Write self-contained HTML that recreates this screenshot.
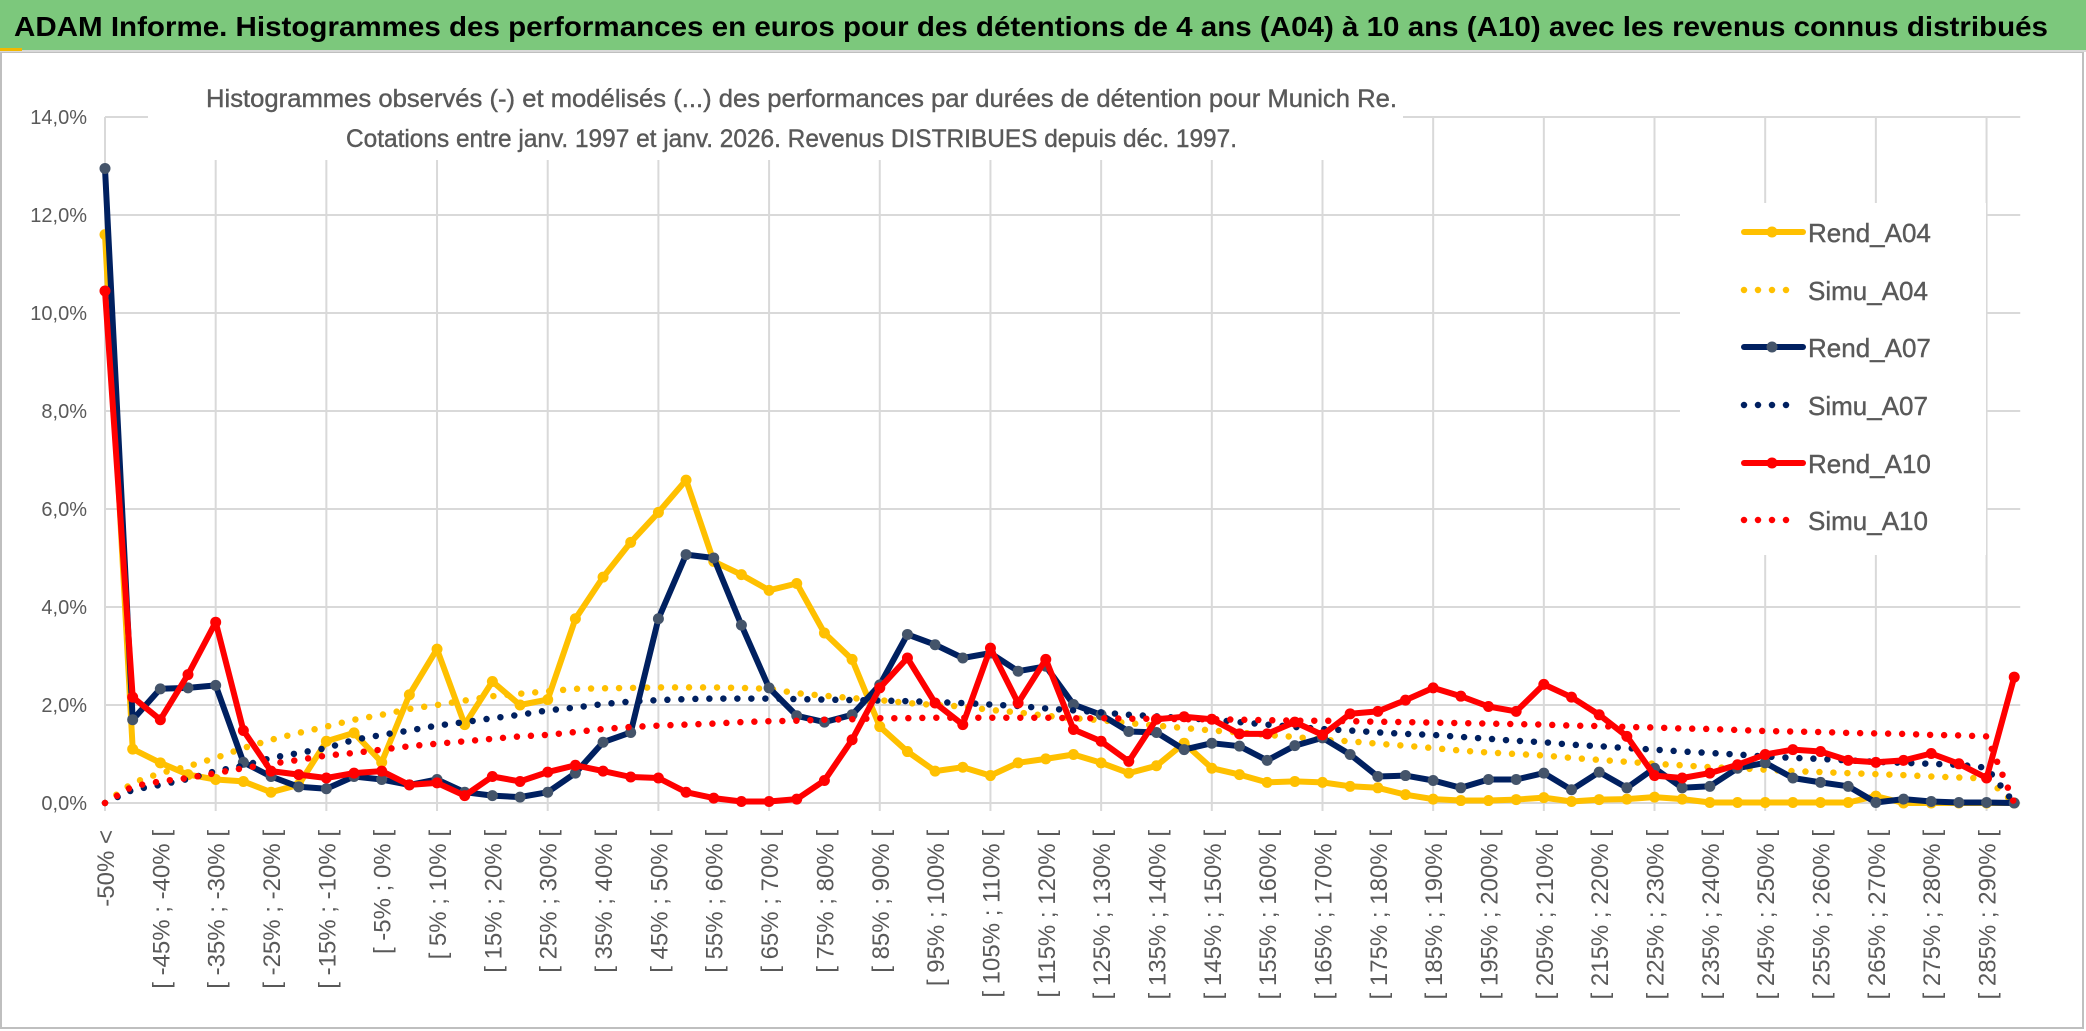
<!DOCTYPE html>
<html><head><meta charset="utf-8"><style>
html,body{margin:0;padding:0;background:#fff;}
svg{display:block;font-family:"Liberation Sans",sans-serif;}
</style></head><body>
<svg id="chart" width="2086" height="1031" viewBox="0 0 2086 1031" xmlns="http://www.w3.org/2000/svg">
<rect x="0" y="0" width="2086" height="1031" fill="#fff"/>
<rect x="1" y="52" width="2082" height="976" fill="#fff" stroke="#bfbfbf" stroke-width="2"/>
<rect x="0" y="0" width="2086" height="50" fill="#7cc87c"/>
<line x1="0" y1="51" x2="2086" y2="51" stroke="#d9d9d9" stroke-width="2"/>
<rect x="0" y="48" width="22" height="3" fill="#f2b800"/>
<text x="14" y="36" font-size="28" font-weight="bold" fill="#000" textLength="2034" lengthAdjust="spacingAndGlyphs">ADAM Informe. Histogrammes des performances en euros pour des détentions de 4 ans (A04) à 10 ans (A10) avec les revenus connus distribués</text>
<g id="grid"></g>
<rect x="148" y="60" width="1255" height="100" fill="#fff"/>
<text x="206" y="107" font-size="25" fill="#595959" stroke="#595959" stroke-width="0.4" textLength="1191" lengthAdjust="spacingAndGlyphs">Histogrammes observés (-) et modélisés (...) des performances par durées de détention pour Munich Re.</text>
<text x="346" y="147" font-size="25" fill="#595959" stroke="#595959" stroke-width="0.4" textLength="891" lengthAdjust="spacingAndGlyphs">Cotations entre janv. 1997 et janv. 2026. Revenus DISTRIBUES depuis déc. 1997.</text>
<g id="yaxis"></g>
<g id="xaxis"></g>
<g id="series"></g>
<g id="legend"></g>
</svg>
<script>
const rendA04 = [11.6,1.10,0.82,0.58,0.48,0.44,0.22,0.37,1.26,1.43,0.83,2.21,3.14,1.60,2.48,2.00,2.11,3.76,
4.61,5.32,5.93,6.59,4.93,4.66,4.34,4.48,3.47,2.93,1.56,1.05,0.65,0.73,0.56,0.82,0.90,
0.99,0.82,0.61,0.76,1.22,0.71,0.58,0.42,0.44,0.42,0.34,0.31,0.17,0.08,0.05,0.05,0.07,0.11,
0.03,0.07,0.08,0.12,0.08,0.01,0.01,0.01,0.01,0.01,0.01,0.14,0,0,0,0,0];
const simuA04 = [0,0.41,0.61,0.75,0.92,1.12,1.29,1.43,1.56,1.70,1.80,1.92,2.00,2.09,2.18,2.23,2.28,2.33,
2.34,2.35,2.36,2.36,2.36,2.35,2.33,2.24,2.19,2.14,2.10,2.04,2.00,1.97,1.90,1.85,1.78,
1.73,1.69,1.63,1.58,1.53,1.48,1.44,1.39,1.35,1.29,1.26,1.21,1.17,1.12,1.07,1.03,1.00,0.97,
0.92,0.88,0.84,0.80,0.77,0.73,0.71,0.68,0.65,0.63,0.61,0.59,0.57,0.54,0.52,0.50,0];
const rendA07 = [12.95,1.70,2.33,2.35,2.40,0.83,0.54,0.33,0.29,0.54,0.48,0.37,0.48,0.22,0.15,0.12,0.22,0.61,
1.24,1.44,3.76,5.07,5.00,3.63,2.35,1.78,1.65,1.80,2.41,3.44,3.23,2.96,3.06,2.69,2.79,
2.01,1.80,1.46,1.44,1.09,1.22,1.16,0.87,1.17,1.33,0.99,0.54,0.56,0.46,0.31,0.48,0.48,0.61,
0.27,0.63,0.31,0.71,0.31,0.34,0.71,0.82,0.51,0.42,0.34,0.01,0.08,0.03,0.01,0.01,0];
const simuA07 = [0,0.27,0.37,0.49,0.65,0.76,0.92,1.02,1.12,1.29,1.39,1.48,1.58,1.65,1.73,1.80,1.89,1.95,
2.02,2.07,2.10,2.12,2.13,2.13,2.13,2.12,2.11,2.10,2.09,2.08,2.06,2.04,2.01,1.98,1.93,
1.89,1.85,1.80,1.77,1.73,1.70,1.65,1.60,1.55,1.51,1.48,1.44,1.41,1.39,1.35,1.31,1.27,1.24,
1.19,1.16,1.12,1.09,1.05,1.02,0.99,0.95,0.92,0.90,0.87,0.84,0.82,0.80,0.78,0.72,0];
const rendA10 = [10.45,2.16,1.70,2.62,3.69,1.48,0.65,0.58,0.51,0.61,0.65,0.37,0.41,0.15,0.54,0.44,0.63,0.77,
0.65,0.53,0.51,0.22,0.10,0.03,0.03,0.08,0.46,1.29,2.35,2.96,2.04,1.60,3.16,2.04,2.93,
1.50,1.26,0.85,1.71,1.76,1.71,1.41,1.41,1.65,1.39,1.82,1.87,2.10,2.35,2.18,1.97,1.87,2.42,
2.16,1.80,1.36,0.56,0.51,0.61,0.78,0.99,1.09,1.05,0.87,0.83,0.87,1.01,0.80,0.51,2.57];
const simuA10 = [0,0.34,0.44,0.51,0.61,0.71,0.80,0.88,0.97,1.02,1.09,1.16,1.21,1.26,1.31,1.36,1.39,1.45,
1.51,1.55,1.58,1.60,1.62,1.65,1.67,1.68,1.70,1.71,1.73,1.73,1.74,1.74,1.74,1.74,1.74,
1.73,1.73,1.72,1.72,1.71,1.71,1.70,1.69,1.68,1.68,1.67,1.66,1.65,1.64,1.63,1.62,1.61,1.60,
1.58,1.57,1.55,1.54,1.52,1.51,1.49,1.47,1.46,1.45,1.43,1.42,1.41,1.39,1.38,1.36,0];
const yTicks = [0,2,4,6,8,10,12,14];
const categories = ["-50% <"];
for (let k = 1; k < 70; k++) { categories.push("[ " + (-55 + 5*k) + "% ; " + (-50 + 5*k) + "% ["); }

const NS = "http://www.w3.org/2000/svg";
const X0 = 105, DX = 27.67, Y0 = 803, PY = 49;
function xs(i){ return X0 + i*DX; }
function ys(v){ return Y0 - v*PY; }
function mk(tag, attrs, parent){ const e = document.createElementNS(NS, tag); for (const k in attrs) e.setAttribute(k, attrs[k]); parent.appendChild(e); return e; }

const grid = document.getElementById('grid');
const xEnd = xs(categories.length - 1) + 6;
yTicks.forEach(t => {
  const l = mk('line', {x1:X0, x2:xEnd, y1:ys(t), y2:ys(t), stroke:'#d9d9d9', 'stroke-width':2}, grid);
  
  
});
for (let i = 0; i < categories.length; i += 4) {
  const l = mk('line', {x1:xs(i), x2:xs(i), y1:ys(14), y2:ys(0)+8, stroke:'#d9d9d9', 'stroke-width':2}, grid);
  
  
}

const yaxis = document.getElementById('yaxis');
yTicks.forEach(t => {
  const tx = mk('text', {x:87, y:ys(t)+7, 'font-size':20, fill:'#595959', 'text-anchor':'end'}, yaxis);
  tx.textContent = t.toFixed(1).replace('.', ',') + '%';
  
  
});

const xaxis = document.getElementById('xaxis');
categories.forEach((c, i) => {
  if (i % 2 !== 0) return;
  const x = xs(i) + 9, y = 830;
  const tx = mk('text', {x:x, y:y, 'font-size':24, fill:'#595959', 'text-anchor':'end', transform:'rotate(-90 ' + x + ' ' + y + ')'}, xaxis);
  tx.textContent = c;
  
  
});

const series = document.getElementById('series');
function pts(arr){ return arr.map((v, i) => xs(i).toFixed(1) + ',' + ys(v).toFixed(1)).join(' '); }
function rend(arr, color, mcol, name){
  const g = mk('g', {}, series);
  
  
  const p = mk('polyline', {points:pts(arr), fill:'none', stroke:color, 'stroke-width':6, 'stroke-linejoin':'round'}, g);
  
  
  arr.forEach((v, i) => {
    const c = mk('circle', {cx:xs(i), cy:ys(v), r:5.5, fill:mcol}, g);
    
    
  });
}
function simu(arr, color, name){
  const p = mk('polyline', {points:pts(arr), fill:'none', stroke:color, 'stroke-width':6.5, 'stroke-linecap':'round', 'stroke-dasharray':'0 14'}, series);
  
  
}
rend(rendA04, '#ffc000', '#ffc000', 'rend-a04');
simu(simuA04, '#ffc000', 'simu-a04');
rend(rendA07, '#002060', '#44546a', 'rend-a07');
simu(simuA07, '#002060', 'simu-a07');
rend(rendA10, '#ff0000', '#ff0000', 'rend-a10');
simu(simuA10, '#ff0000', 'simu-a10');

const legend = document.getElementById('legend');
const lbg = mk('rect', {x:1680, y:203, width:306, height:352, fill:'#fff'}, legend);


const legItems = [['Rend_A04','#ffc000','#ffc000',false],['Simu_A04','#ffc000','',true],['Rend_A07','#002060','#44546a',false],['Simu_A07','#002060','',true],['Rend_A10','#ff0000','#ff0000',false],['Simu_A10','#ff0000','',true]];
const legY = [232, 290, 347, 405, 463, 520];
legItems.forEach((it, k) => {
  const y = legY[k];
  const g = mk('g', {}, legend);
  
  
  if (it[3]) {
    const l = mk('line', {x1:1744, x2:1800, y1:y, y2:y, stroke:it[1], 'stroke-width':6.5, 'stroke-linecap':'round', 'stroke-dasharray':'0 14'}, g);
    
    
  } else {
    const l = mk('line', {x1:1744, x2:1803, y1:y, y2:y, stroke:it[1], 'stroke-width':6, 'stroke-linecap':'round'}, g);
    
    
    const c = mk('circle', {cx:1772, cy:y, r:5.5, fill:it[2]}, g);
    
    
  }
  const t = mk('text', {x:1808, y:y+10, 'font-size':26, fill:'#595959', stroke:'#595959', 'stroke-width':0.4}, g);
  t.textContent = it[0];
  
  
});
</script>
</body></html>
